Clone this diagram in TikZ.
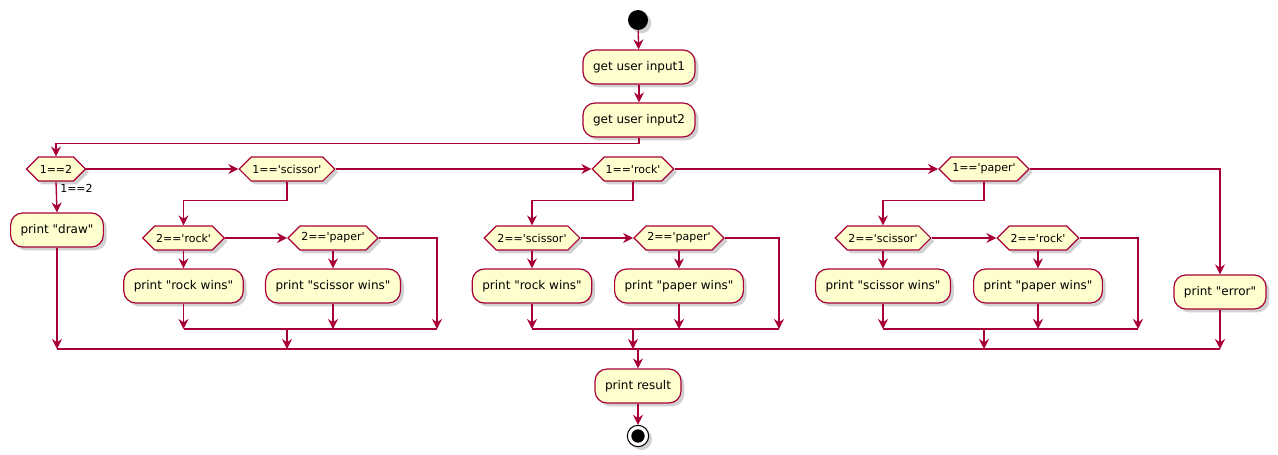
\documentclass[tikz,border=0pt]{standalone}
\usepackage{fontspec}
\setmainfont{DejaVu Sans}[Ligatures=TeXOff]
\usetikzlibrary{arrows.meta,shapes.symbols,shadows}
\definecolor{umlred}{HTML}{A80036}
\definecolor{umlfill}{HTML}{FEFECE}

\begin{document}
\begin{tikzpicture}[x=.75pt,y=-.75pt,>={Stealth[length=7.5pt,width=7.5pt,inset=2.5pt]}]
\tikzset{shade/.style={drop shadow={shadow xshift=2.5pt,shadow yshift=-2.5pt,fill=black!30,opacity=.6}},
  act/.style={shade,draw=umlred,fill=umlfill,line width=.9pt,rounded corners=9pt,minimum height=25.5pt,inner xsep=7.5pt,font=\fontsize{9}{11}\selectfont},
  cond/.style={shade,signal,signal to=east and west,draw=umlred,fill=umlfill,line width=.9pt,minimum height=18pt,inner xsep=1pt,inner ysep=0pt,font=\fontsize{8.25}{10}\selectfont},
  flow/.style={draw=umlred,line width=1pt,->},
  bar/.style={draw=umlred,line width=1pt}}
\useasboundingbox (0,0) rectangle (1278,454);

\node[shade,circle,fill=black,minimum size=15pt,inner sep=0pt] (start) at (638,20) {};
\node[act] (in1) at (639,67) {get user input1};
\node[act] (in2) at (639,120) {get user input2};

\node[cond] (d12) at (56,169) {1==2};
\node[cond] (dsc) at (287,169) {1=='scissor'};
\node[cond] (drk) at (633,169) {1=='rock'};
\node[cond] (dpa) at (984,169) {1=='paper'};
\node[font=\fontsize{8.25}{10}\selectfont,anchor=west,inner sep=0pt] (lab12) at (60,188) {1==2};

\node[act] (draw) at (57,230) {print "draw"};
\node[act] (err) at (1220,292) {print "error"};

\node[cond] (ca) at (183.5,238) {2=='rock'};
\node[cond] (cb) at (333,238) {2=='paper'};
\node[act] (ra) at (183.5,286) {print "rock wins"};
\node[act] (rb) at (333,286) {print "scissor wins"};

\node[cond] (ka) at (532,238) {2=='scissor'};
\node[cond] (kb) at (679,238) {2=='paper'};
\node[act] (sa) at (532,286) {print "rock wins"};
\node[act] (sb) at (679,286) {print "paper wins"};

\node[cond] (pa) at (883,238) {2=='scissor'};
\node[cond] (pb) at (1038,238) {2=='rock'};
\node[act] (ta) at (883,286) {print "scissor wins"};
\node[act] (tb) at (1038,286) {print "paper wins"};

\node[act] (res) at (638,386) {print result};
\node[shade,circle,draw=black,fill=white,line width=.8pt,minimum size=16pt,inner sep=0pt,
  path picture={\fill[black] (path picture bounding box.center) circle (5pt);}] (stop) at (638,436) {};

\coordinate (mL) at (57,349);
\coordinate (mR) at (1220,349);

\draw[flow] (start) -- (in1);
\draw[flow] (in1) -- (in2);
\draw[flow] (in2.south) -- ++(0,6) -| (d12.north);
\draw[flow] (d12.south) -- (draw.north);
\draw[flow] (d12.east) -- (dsc.west);
\draw[flow] (dsc.east) -- (drk.west);
\draw[flow] (drk.east) -- (dpa.west);
\draw[flow] (dpa.east) -| (err.north);

\foreach \c/\p/\q/\u/\v/\r in {dsc/ca/cb/ra/rb/437,drk/ka/kb/sa/sb/779,dpa/pa/pb/ta/tb/1138}{
  \draw[flow] (\c.south) -- ++(0,19) -| (\p.north);
  \draw[flow] (\p.east) -- (\q.west);
  \draw[flow] (\p.south) -- (\u.north);
  \draw[flow] (\q.south) -- (\v.north);
  \draw[flow] (\q.east) -| (\r,329);
  \draw[flow] (\u.south) -- (\u.south |- 0,329);
  \draw[flow] (\v.south) -- (\v.south |- 0,329);
  \draw[bar] (\u.south |- 0,329) -- (\r,329);
  \draw[flow] (\c.south |- 0,329) -- (\c.south |- mL);
}

\draw[flow] (draw.south) -- (draw.south |- mL);
\draw[flow] (err.south) -- (mR);
\draw[bar] (draw.south |- mL) -- (mR);
\draw[flow] (res.north |- mL) -- (res.north);
\draw[flow] (res.south) -- (stop.north);
\end{tikzpicture}
\end{document}
